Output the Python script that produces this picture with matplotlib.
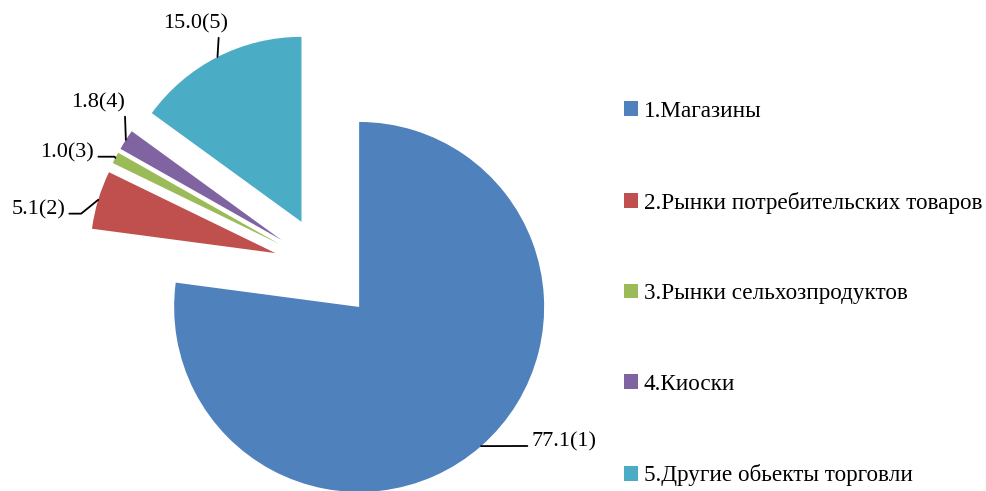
import matplotlib.pyplot as plt
import numpy as np

# Доли объектов торговли, %
values = [77.1, 5.1, 1.0, 1.8, 15.0]
names = ['1.Магазины', '2.Рынки потребительских товаров', '3.Рынки сельхозпродуктов',
         '4.Киоски', '5.Другие обьекты торговли']
labels = ['77.1(1)', '5.1(2)', '1.0(3)', '1.8(4)', '15.0(5)']
colors = ['#4F81BD', '#C0504D', '#9BBB59', '#8064A2', '#4BACC6']

plt.rcParams['font.family'] = ['Liberation Serif', 'DejaVu Serif']

W, H = 987, 491
R = 185.0          # радиус в пикселях
cx, cy = 325, 268  # центр круга (пиксели, от верхнего левого угла)

fig = plt.figure(figsize=(W / 100, H / 100), dpi=100)
ax = fig.add_axes([0, 0, 1, 1])
wedges, _ = ax.pie(values, colors=colors, startangle=90, counterclock=False,
                   explode=[0.28] * len(values), radius=1)
ax.set_xlim(-cx / R, (W - cx) / R)
ax.set_ylim(-(H - cy) / R, cy / R)
ax.set_aspect('equal')
ax.axis('off')

# подписи: смещение текста от точки на дуге (пиксели) и форма выноски
offsets = [(83, 4), (-60, -10), (-48, 5), (-28, 37), (-22, 33)]
relpos = [(0, 0.3), (1, 0.3), (1, 0.3), (1, 0.1), (0.86, 0)]
conns = ['arc3', 'angle,angleA=0,angleB=39,rad=0', 'angle,angleA=0,angleB=-55,rad=0',
         'arc3', 'arc3']

for w, lab, off, rp, cs in zip(wedges, labels, offsets, relpos, conns):
    mid = np.deg2rad((w.theta1 + w.theta2) / 2)
    px = w.center[0] + w.r * np.cos(mid)
    py = w.center[1] + w.r * np.sin(mid)
    ax.annotate(lab, xy=(px, py), xytext=off, textcoords='offset pixels',
                ha='center', va='center', fontsize=16,
                arrowprops=dict(arrowstyle='-', color='black', lw=1.3,
                                shrinkA=1, shrinkB=0, relpos=rp, connectionstyle=cs))

fig.legend(wedges, names, loc='upper left', bbox_to_anchor=(624 / W, (H - 101) / H),
           frameon=False, fontsize=16.7, handlelength=0.6, handleheight=0.6,
           handletextpad=0.25, labelspacing=3.0, borderpad=0, borderaxespad=0)

fig.savefig('out.png', dpi=100)
